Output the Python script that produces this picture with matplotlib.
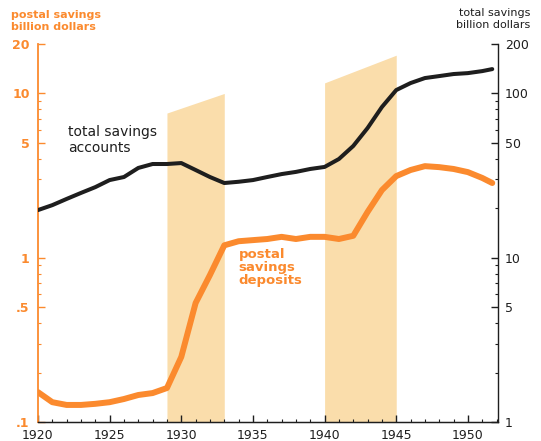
import matplotlib.pyplot as plt
from matplotlib.ticker import FixedLocator, NullFormatter

# annual figures, billion dollars
years = [1920, 1921, 1922, 1923, 1924, 1925, 1926, 1927, 1928, 1929,
         1930, 1931, 1932, 1933, 1934, 1935, 1936, 1937, 1938, 1939,
         1940, 1941, 1942, 1943, 1944, 1945, 1946, 1947, 1948, 1949,
         1950, 1951, 1951.7]
total_savings = [19.5, 20.9, 22.8, 24.8, 26.9, 29.7, 31.0, 35.2, 37.2, 37.2,
                 37.7, 34.2, 31.0, 28.5, 29.0, 29.7, 31.0, 32.3, 33.3, 34.7,
                 35.7, 39.9, 47.9, 61.6, 82.7, 104.9, 115.7, 124.1, 127.6, 131.3,
                 133.0, 136.8, 140.7]
postal_savings = [0.152, 0.132, 0.127, 0.127, 0.129, 0.132, 0.138, 0.146, 0.150, 0.161,
                  0.249, 0.530, 0.785, 1.19, 1.26, 1.28, 1.30, 1.34, 1.30, 1.34,
                  1.34, 1.30, 1.36, 1.90, 2.58, 3.14, 3.42, 3.61, 3.56, 3.47,
                  3.32, 3.06, 2.85]

# shaded periods: (start, end, top at start, top at end) on the postal scale
shaded = [(1929, 1933, 7.6, 10.0), (1940, 1945, 11.6, 17.1)]

left_ticks = [0.1, 0.5, 1, 5, 10, 20]
left_labels = ['.1', '.5', '1', '5', '10', '20']
right_ticks = [1, 5, 10, 50, 100, 200]
right_labels = ['1', '5', '10', '50', '100', '200']
year_labels = [1920, 1925, 1930, 1935, 1940, 1945, 1950]

orange = '#FB8A2E'
shade = '#FADDAB'
ink = '#1E1E1E'

fig = plt.figure(figsize=(5.41, 4.41), dpi=100)
ax = fig.add_axes([0.0702, 0.0431, 0.8503, 0.8571])
ax2 = ax.twinx()   # drawn above ax: black line stays over the shading

for x0, x1, t0, t1 in shaded:
    ax.fill_between([x0, x1], [0.1, 0.1], [t0, t1], color=shade, lw=0, zorder=0)

ax.plot(years, postal_savings, color=orange, lw=4.3, solid_capstyle='round',
        solid_joinstyle='round', zorder=3)
ax2.plot(years, total_savings, color=ink, lw=2.9, solid_capstyle='round',
         solid_joinstyle='round', zorder=3)

ax.set_yscale('log')
ax2.set_yscale('log')
ax.set_ylim(0.1, 20)
ax2.set_ylim(1, 200)
ax.set_xlim(1920, 1952.1)

# left (postal) axis
ax.yaxis.set_major_locator(FixedLocator(left_ticks))
ax.set_yticklabels(left_labels)
minor_l = [m * d for d in (0.1, 1) for m in (2, 3, 4, 6, 7, 8, 9)]
ax.yaxis.set_minor_locator(FixedLocator(minor_l))
ax.yaxis.set_minor_formatter(NullFormatter())
ax.tick_params(axis='y', which='major', direction='in', length=5, width=1,
               color=orange, labelcolor=orange, labelsize=9, pad=6)
ax.tick_params(axis='y', which='minor', direction='in', length=2.5, width=0.8,
               color=orange)
for lab in ax.get_yticklabels():
    lab.set_fontweight('bold')

# right (total) axis
ax2.yaxis.set_major_locator(FixedLocator(right_ticks))
ax2.set_yticklabels(right_labels)
minor_r = [m * d for d in (1, 10) for m in (2, 3, 4, 6, 7, 8, 9)]
ax2.yaxis.set_minor_locator(FixedLocator(minor_r))
ax2.yaxis.set_minor_formatter(NullFormatter())
ax2.tick_params(axis='y', which='major', direction='in', length=5, width=1,
                color=ink, labelcolor=ink, labelsize=9, pad=5)
ax2.tick_params(axis='y', which='minor', direction='in', length=2.5, width=0.8,
                color=ink)

# year axis
ax.set_xticks(year_labels)
ax.set_xticks(range(1920, 1953), minor=True)
ax.tick_params(axis='x', which='major', direction='in', length=5, width=1,
               color=ink, labelcolor=ink, labelsize=9, pad=5)
ax.tick_params(axis='x', which='minor', direction='in', length=2.5, width=0.8,
               color=ink)

for a in (ax, ax2):
    a.spines['top'].set_visible(False)
    a.patch.set_visible(False)
ax.spines['left'].set_color(orange)
ax.spines['left'].set_linewidth(1.3)
ax.spines['right'].set_visible(False)
ax2.spines['left'].set_visible(False)
ax2.spines['right'].set_color(ink)
ax2.spines['right'].set_linewidth(1)
ax2.spines['bottom'].set_color(ink)
ax2.spines['bottom'].set_linewidth(1)
ax.spines['bottom'].set_color(ink)

# axis titles
fig.text(11 / 541, 1 - 21 / 441, 'postal savings\nbillion dollars', color=orange,
         fontsize=8, fontweight='bold', ha='left', va='center', linespacing=1.25)
fig.text(530 / 541, 1 - 19 / 441, 'total savings\nbillion dollars', color=ink,
         fontsize=8, ha='right', va='center', linespacing=1.35)

# series labels
ax.text(1922.1, 5.2, 'total savings\naccounts', color=ink, fontsize=10,
        ha='left', va='center', linespacing=1.15)
ax.text(1934.0, 0.87, 'postal\nsavings\ndeposits', color=orange, fontsize=9.5,
        fontweight='bold', ha='left', va='center', linespacing=1.0)

fig.savefig('out.png', dpi=100)
